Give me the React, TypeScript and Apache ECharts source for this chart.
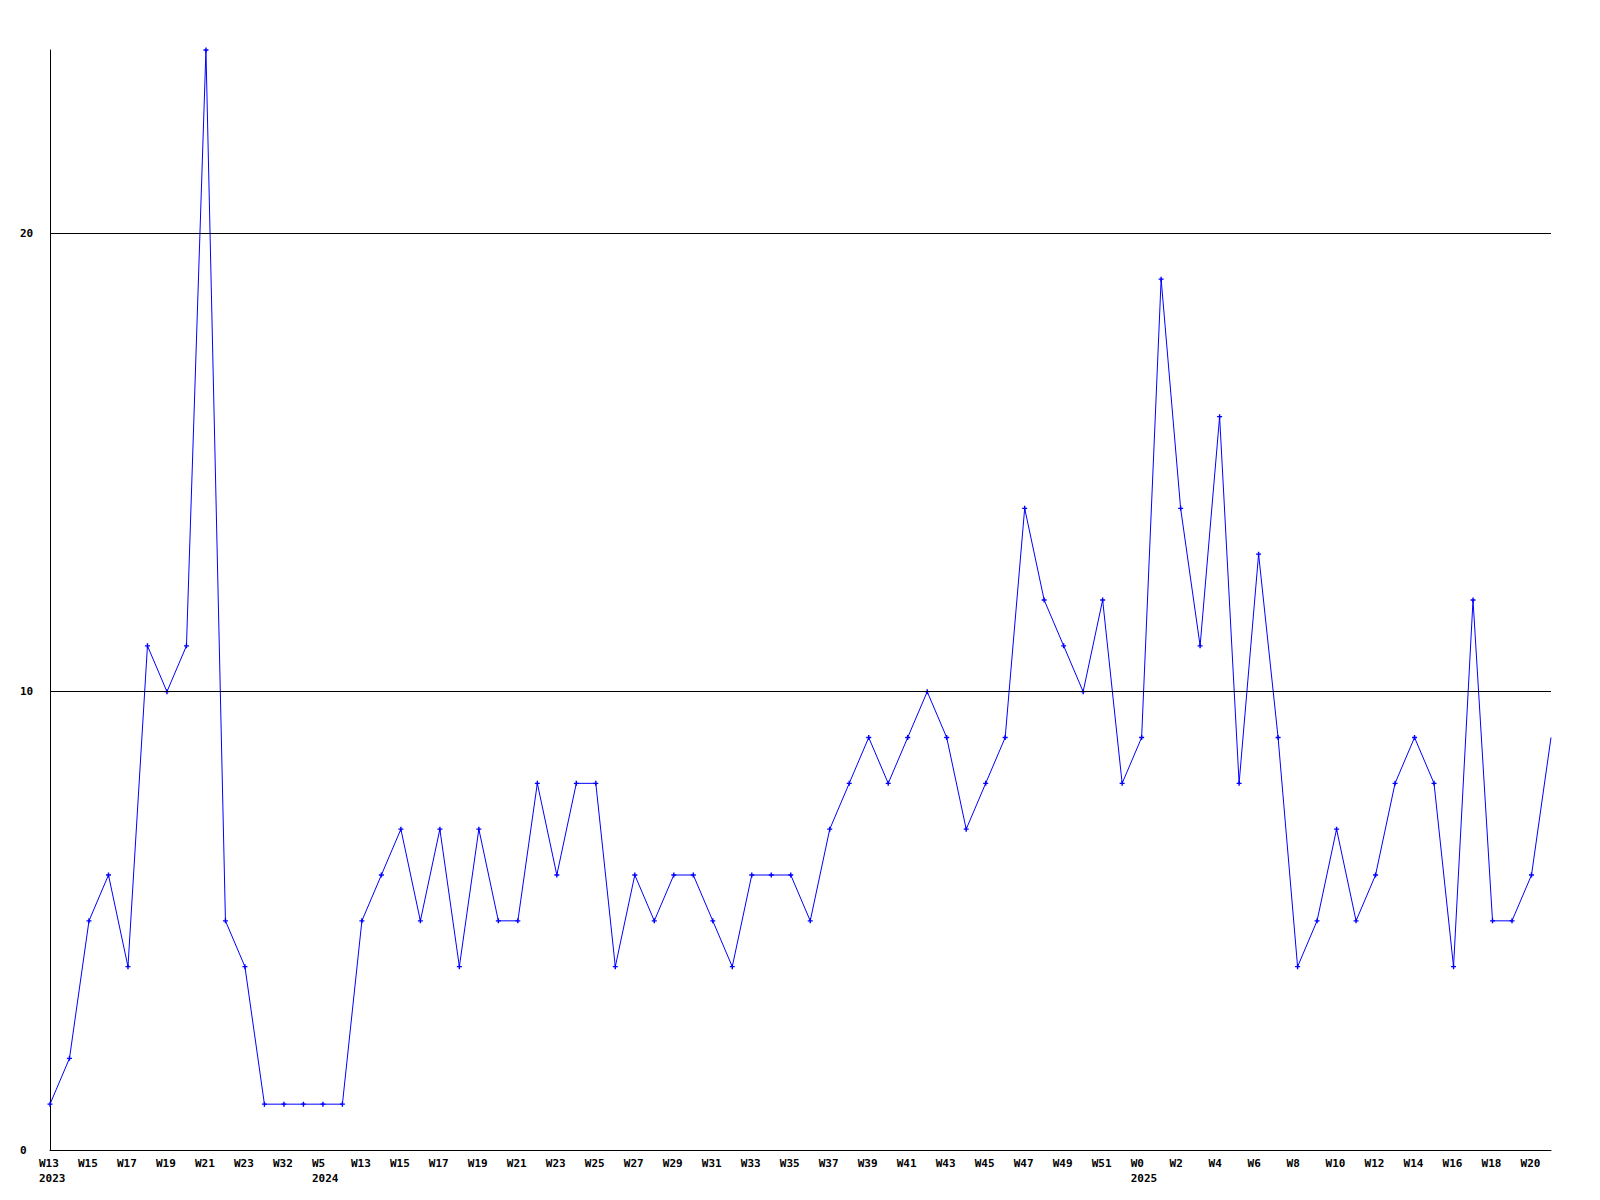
import React, { useEffect, useRef } from "react";
import * as echarts from "echarts";

const weeks: string[] = [
  "W13", "W14", "W15", "W16", "W17", "W18", "W19", "W20", "W21", "W22", "W23", "W24",
  "W32", "W33", "W5", "W12",
  "W13", "W14", "W15", "W16", "W17", "W18", "W19", "W20", "W21", "W22", "W23", "W24",
  "W25", "W26", "W27", "W28", "W29", "W30", "W31", "W32", "W33", "W34", "W35", "W36",
  "W37", "W38", "W39", "W40", "W41", "W42", "W43", "W44", "W45", "W46", "W47", "W48",
  "W49", "W50", "W51", "W52",
  "W0", "W1", "W2", "W3", "W4", "W5", "W6", "W7", "W8", "W9", "W10", "W11", "W12",
  "W13", "W14", "W15", "W16", "W17", "W18", "W19", "W20", "W21",
];

const years: string[] = weeks.map(() => "");
years[0] = "2023";
years[14] = "2024";
years[56] = "2025";

const values: number[] = [
  1, 2, 5, 6, 4, 11, 10, 11, 24, 5, 4, 1,
  1, 1, 1, 1,
  5, 6, 7, 5, 7, 4, 7, 5, 5, 8, 6, 8,
  8, 4, 6, 5, 6, 6, 5, 4, 6, 6, 6, 5,
  7, 8, 9, 8, 9, 10, 9, 7, 8, 9, 14, 12,
  11, 10, 12, 8,
  9, 19, 14, 11, 16, 8, 13, 9, 4, 5, 7, 5, 6,
  8, 9, 8, 4, 12, 5, 5, 6, 9,
];

const gridLevels: number[] = [10, 20];

const FONT = "'DejaVu Sans Mono', 'Liberation Mono', monospace";

export default function App() {
  const ref = useRef<HTMLDivElement>(null);

  useEffect(() => {
    if (!ref.current) return;
    const chart = echarts.init(ref.current, undefined, { renderer: "svg" });
    const data = values.map((v, i) =>
      i === values.length - 1 ? { value: v, symbol: "none" } : v
    );
    chart.setOption({
      animation: false,
      backgroundColor: "#ffffff",
      grid: { left: 50, right: 49, top: 50, bottom: 50, containLabel: false },
      xAxis: {
        type: "category",
        data: weeks,
        boundaryGap: false,
        axisLine: { show: true, lineStyle: { color: "#000000", width: 1 } },
        axisTick: { show: false },
        splitLine: { show: false },
        axisLabel: {
          interval: 1,
          margin: 6,
          width: 22,
          align: "center",
          color: "#000000",
          fontFamily: FONT,
          fontSize: 11,
          fontWeight: "bold",
          lineHeight: 15,
          formatter: (value: string, index: number) => {
            const y = years[index];
            return y ? `{a|${value}}\n{a|${y}}` : `{a|${value}}`;
          },
          rich: {
            a: {
              align: "left",
              color: "#000000",
              fontFamily: FONT,
              fontSize: 11,
              fontWeight: "bold",
              lineHeight: 15,
            },
          },
        },
      },
      yAxis: {
        type: "value",
        min: 0,
        max: 24,
        interval: 10,
        axisLine: { show: true, lineStyle: { color: "#000000", width: 1 } },
        axisTick: { show: false },
        splitLine: { show: false },
        axisLabel: {
          showMaxLabel: false,
          align: "left",
          margin: 30,
          color: "#000000",
          fontFamily: FONT,
          fontSize: 11,
          fontWeight: "bold",
        },
      },
      series: [
        {
          type: "line",
          data,
          symbol: "path://M1.8,0H3.2V1.8H5V3.2H3.2V5H1.8V3.2H0V1.8H1.8Z",
          symbolSize: 5,
          showSymbol: true,
          lineStyle: { color: "#0000ff", width: 1 },
          itemStyle: { color: "#0000ff" },
          markLine: {
            silent: true,
            symbol: "none",
            label: { show: false },
            lineStyle: { color: "#000000", width: 1, type: "solid" },
            data: gridLevels.map((g) => ({ yAxis: g })),
          },
        },
      ],
    });
    return () => chart.dispose();
  }, []);

  return (
    <div
      ref={ref}
      style={{ position: "absolute", left: 0, top: 0, width: 1600, height: 1200, background: "#fff" }}
    />
  );
}
